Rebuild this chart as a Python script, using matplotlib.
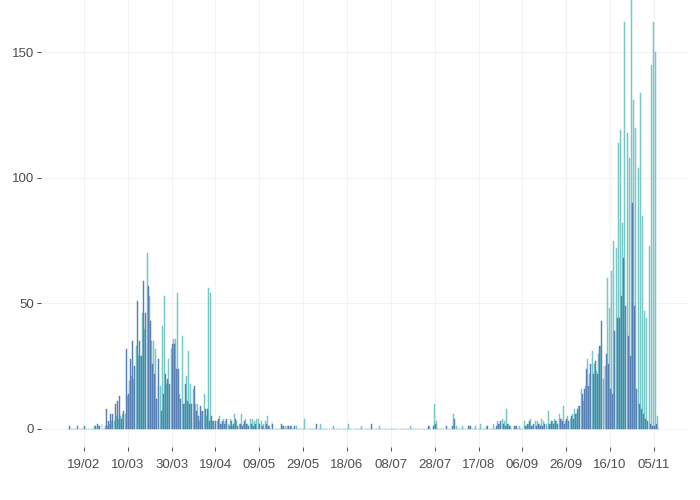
import numpy as np
import pandas as pd
import matplotlib
matplotlib.use("Agg")
import matplotlib.pyplot as plt
import matplotlib.dates as mdates

# daily counts, 12/02 to 07/11
dates = pd.date_range("2020-02-12", periods=270, freq="D")

blue = [
    1, 0, 0, 0, 1, 0, 0, 1, 0, 0,
    0, 0, 1, 2, 1, 2, 0, 8, 3, 6,
    6, 10, 11, 13, 4, 7, 32, 14, 28, 35,
    25, 51, 35, 29, 59, 46, 57, 43, 26, 22,
    12, 28, 7, 14, 22, 20, 18, 34, 34, 24,
    24, 12, 10, 18, 11, 10, 10, 17, 7, 5,
    9, 7, 8, 8, 3, 5, 3, 3, 4, 2,
    3, 2, 4, 1, 3, 2, 4, 1, 2, 1,
    3, 2, 1, 2, 1, 2, 0, 2, 1, 0,
    2, 1, 0, 2, 0, 0, 0, 2, 1, 0,
    1, 1, 0, 1, 0, 0, 0, 0, 0, 0,
    0, 0, 0, 2, 0, 0, 0, 0, 0, 0,
    0, 0, 0, 0, 0, 0, 0, 0, 0, 0,
    0, 0, 0, 0, 0, 0, 0, 0, 2, 0,
    0, 0, 0, 0, 0, 0, 0, 0, 0, 0,
    0, 0, 0, 0, 0, 0, 0, 0, 0, 0,
    0, 0, 0, 0, 1, 0, 1, 2, 0, 0,
    0, 0, 1, 0, 0, 1, 4, 0, 0, 0,
    0, 0, 1, 1, 0, 0, 0, 0, 0, 0,
    0, 1, 0, 0, 0, 1, 2, 3, 2, 1,
    2, 1, 0, 1, 1, 0, 0, 0, 1, 2,
    3, 1, 2, 1, 2, 1, 1, 2, 1, 2,
    3, 2, 3, 2, 4, 3, 2, 4, 3, 5,
    4, 6, 8, 9, 14, 16, 24, 17, 26, 22,
    27, 22, 33, 43, 25, 30, 26, 16, 14, 39,
    44, 44, 53, 68, 49, 37, 29, 90, 49, 16,
    10, 8, 6, 4, 3, 2, 1, 1, 2, 0,
]

teal = [
    0, 0, 0, 0, 0, 0, 0, 0, 0, 0,
    0, 0, 1, 0, 1, 0, 0, 1, 1, 2,
    3, 3, 5, 4, 5, 6, 6, 13, 19, 21,
    20, 33, 29, 29, 46, 40, 70, 53, 35, 35,
    32, 17, 17, 41, 53, 18, 28, 32, 36, 36,
    54, 14, 37, 10, 21, 31, 18, 16, 10, 10,
    3, 7, 14, 5, 56, 54, 3, 2, 3, 5,
    2, 4, 3, 2, 4, 1, 6, 3, 2, 6,
    2, 4, 2, 4, 4, 3, 4, 4, 3, 2,
    3, 5, 1, 3, 0, 0, 0, 0, 1, 1,
    1, 0, 1, 0, 1, 0, 0, 0, 4, 0,
    0, 0, 0, 0, 0, 2, 0, 0, 0, 0,
    0, 1, 0, 0, 0, 0, 0, 0, 2, 0,
    0, 0, 0, 0, 1, 0, 0, 0, 0, 0,
    0, 0, 1, 0, 0, 0, 0, 0, 0, 0,
    0, 0, 0, 0, 0, 0, 1, 0, 0, 0,
    0, 0, 0, 0, 0, 1, 0, 10, 3, 0,
    0, 0, 0, 0, 0, 0, 6, 1, 0, 0,
    1, 0, 0, 1, 0, 0, 1, 0, 2, 0,
    0, 1, 0, 0, 2, 0, 3, 2, 4, 3,
    8, 2, 1, 0, 1, 0, 1, 0, 3, 1,
    2, 4, 1, 3, 3, 2, 4, 3, 2, 7,
    2, 3, 4, 3, 6, 4, 9, 3, 5, 4,
    6, 8, 6, 9, 16, 11, 17, 28, 22, 31,
    26, 23, 30, 33, 20, 25, 60, 48, 63, 75,
    72, 114, 119, 82, 162, 118, 108, 175, 131, 120,
    104, 134, 85, 47, 44, 73, 145, 162, 150, 5,
]

tick_dates = pd.date_range("2020-02-19", "2020-11-05", freq="20D")

fig = plt.figure(figsize=(7, 5), dpi=100)
ax = fig.add_axes([41 / 700, 53 / 500, 648 / 700, 447 / 500])

x = mdates.date2num(dates)
w = 0.45
ax.bar(x - w / 2, teal, width=w, color="#8ad1d1", edgecolor="#62bdbd",
       linewidth=0.3, zorder=2)
ax.bar(x + w / 2, blue, width=w, color="#5a84b6", edgecolor="#5479af",
       linewidth=0.3, zorder=2)

ax.set_xlim(x[0] - 12.6, x[0] + 283.0)
ax.set_ylim(-7.2, 170.9)

ax.set_xticks(mdates.date2num(tick_dates))
ax.xaxis.set_major_formatter(mdates.DateFormatter("%d/%m"))
ax.set_yticks([0, 50, 100, 150])

for s in ax.spines.values():
    s.set_visible(False)
ax.grid(True, color="#f0f0f0", linewidth=0.6, zorder=0)
ax.set_axisbelow(True)
ax.tick_params(axis="both", colors="#333333", length=3, width=0.6,
               labelcolor="#4d4d4d", labelsize=9.5, pad=2)
for lab in ax.get_xticklabels() + ax.get_yticklabels():
    lab.set_family("Liberation Sans")
ax.tick_params(axis="x", pad=6)

fig.savefig("out.png", dpi=100)
